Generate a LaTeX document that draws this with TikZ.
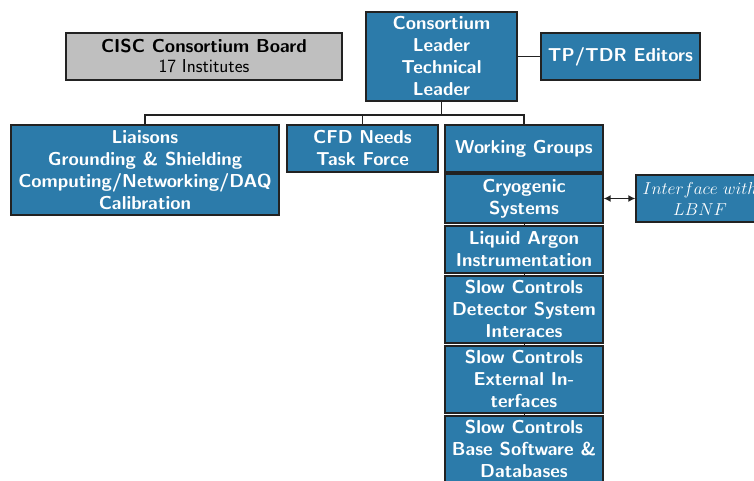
\documentclass[tikz,border=0pt]{standalone}
\usepackage{fix-cm}
\usetikzlibrary{arrows.meta}
\definecolor{boxblue}{RGB}{44,123,170}
\definecolor{boxgray}{RGB}{191,191,191}
\definecolor{edge}{RGB}{34,34,34}
\begin{document}
\begin{tikzpicture}[x=1pt,y=-1pt,
  bx/.style={draw=edge,line width=1.3pt,fill=boxblue,text=white,align=center,
    font=\fontencoding{OT1}\fontfamily{cmss}\fontseries{bx}\fontsize{18.7}{22}\selectfont,inner sep=0pt,
    minimum width=#1},
  bx/.default=158pt,
  conn/.style={draw=edge,line width=1.6pt}]
\useasboundingbox (0,0) rectangle (754,481);
\node[bx=276pt,minimum height=47pt,fill=boxgray,text=black] (board) at (204,56.5)
  {CISC Consortium Board\\[-2pt]{\fontseries{m}\selectfont 17 Institutes}};
\node[bx=151pt,minimum height=89pt] (leader) at (441.5,56.5)
  {Consortium\\Leader\\Technical\\Leader};
\node[bx=159pt,minimum height=47pt] (tp) at (620.5,56.5) {TP/TDR Editors};
\node[bx=268pt,minimum height=90pt] (liaisons) at (145,170)
  {Liaisons\\Grounding \& Shielding\\Computing/Networking/DAQ\\Calibration};
\node[bx=151pt,minimum height=47pt] (cfd) at (362.5,148.5) {CFD Needs\\Task Force};
\node[bx,minimum height=47pt] (wg) at (524,148.5) {Working Groups};
\node[bx,minimum height=49pt] (cryo) at (524,198.5) {Cryogenic\\Systems};
\node[bx,minimum height=47pt] (lar) at (524,249.5) {Liquid Argon\\Instrumentation};
\node[bx,minimum height=67pt] (scdet) at (524,309.5) {Slow Controls\\Detector System\\Interaces};
\node[bx,minimum height=67pt] (scext) at (524,379.5) {Slow Controls\\External In-\\terfaces};
\node[bx,minimum height=67pt] (scbase) at (524,449.5) {Slow Controls\\Base Software \&\\Databases};
\node[bx=128pt,minimum height=47pt,font=\fontsize{17.28}{21}\selectfont] (iface) at (700,198.5)
  {$Interface\ with$\\$LBNF$};
\coordinate (bus) at (441.5,115);
\draw[conn] (leader.east) -- (tp.west);
\draw[conn] (leader.south) -- (bus);
\draw[conn] (liaisons.north) |- (bus) -| (wg.north);
\draw[conn] (cfd.north) -- (cfd.north |- bus);
\draw[conn,line width=1pt] (wg.south) -- (cryo.north);
\draw[conn,line width=1pt] (cryo.south) -- (lar.north);
\draw[conn,line width=1pt] (lar.south) -- (scdet.north);
\draw[conn,line width=1pt] (scdet.south) -- (scext.north);
\draw[conn,line width=1pt] (scext.south) -- (scbase.north);
\draw[conn,line width=1.8pt,{Latex[length=7pt,width=7pt]}-{Latex[length=7pt,width=7pt]}] (cryo.east) -- (iface.west);
\end{tikzpicture}
\end{document}
